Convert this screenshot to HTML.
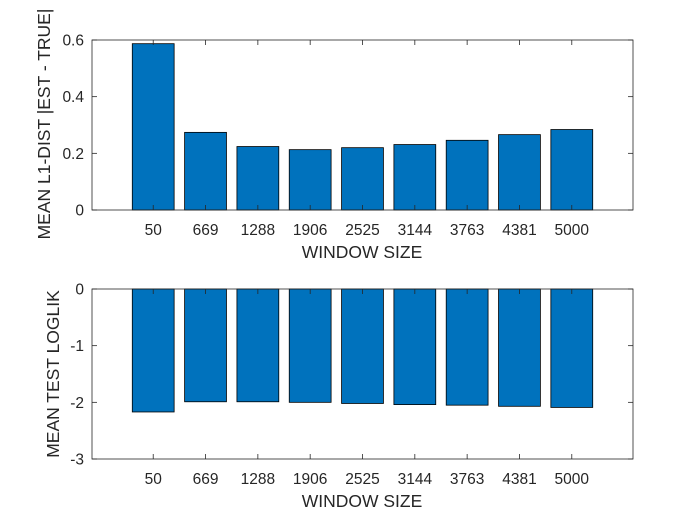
<!DOCTYPE html>
<html><head><meta charset="utf-8"><style>
html,body{margin:0;padding:0;background:#fff;}
svg text{font-family:"Liberation Sans",Arial,sans-serif;fill:#262626;}
</style></head><body>
<svg id="chart" width="700" height="525" xmlns="http://www.w3.org/2000/svg"></svg>
<script>
const categories=["50","669","1288","1906","2525","3144","3763","4381","5000"];
const l1Values=[0.587,0.274,0.224,0.213,0.220,0.231,0.246,0.266,0.284];
const loglikValues=[-2.17,-1.99,-1.99,-2.00,-2.02,-2.04,-2.05,-2.07,-2.09];
const topTicks=[0,0.2,0.4,0.6];
const bottomTicks=[-3,-2,-1,0];
const NS="http://www.w3.org/2000/svg";
const svg=document.getElementById('chart');
function mk(t,a,p){const e=document.createElementNS(NS,t);for(const k in a)e.setAttribute(k,a[k]);(p||svg).appendChild(e);return e;}
const X0=92,X1=633;
const dom=[-0.17,10.17];
function xs(i){return X0+(i+1-dom[0])/(dom[1]-dom[0])*(X1-X0);}
const step=(X1-X0)/(dom[1]-dom[0]);
function panel(name,top,bot,ymin,ymax,vals,ticks,ylabel,fmt){
  const g=mk('g',{});
  
  
  const ys=v=>bot-(v-ymin)/(ymax-ymin)*(bot-top);
  mk('rect',{x:X0,y:top,width:X1-X0,height:bot-top,fill:'#fff'},g);
  vals.forEach((v,i)=>{
    const cx=xs(i),w=step*0.8,y0=ys(0),y1=ys(v);
    const r=mk('rect',{x:cx-w/2,y:Math.min(y0,y1),width:w,height:Math.abs(y1-y0),fill:'#0072BD',stroke:'#000','stroke-width':0.8},g);
    
    
  });
  mk('rect',{x:X0,y:top,width:X1-X0,height:bot-top,fill:'none',stroke:'#262626','stroke-width':0.8},g);
  ticks.forEach(t=>{
    const y=ys(t);
    mk('line',{x1:X0,x2:X0+5,y1:y,y2:y,stroke:'#262626','stroke-width':0.8},g);
    mk('line',{x1:X1,x2:X1-5,y1:y,y2:y,stroke:'#262626','stroke-width':0.8},g);
    const tx=mk('text',{x:X0-8,y:y+5.5,'text-anchor':'end',style:'font-size:15.5px'},g);tx.textContent=fmt(t);
    
    
  });
  categories.forEach((c,i)=>{
    const x=xs(i);
    mk('line',{x1:x,x2:x,y1:bot,y2:bot-5,stroke:'#262626','stroke-width':0.8},g);
    mk('line',{x1:x,x2:x,y1:top,y2:top+5,stroke:'#262626','stroke-width':0.8},g);
    const tx=mk('text',{x:x,y:bot+25,'text-anchor':'middle',style:'font-size:15.5px'},g);tx.textContent=c;
    
    
  });
  const xl=mk('text',{x:362,y:bot+48,'text-anchor':'middle',style:'font-size:17.5px'},g);xl.textContent='WINDOW SIZE';
  
  
  const yl=mk('text',{x:0,y:0,'text-anchor':'middle',style:'font-size:17.5px',transform:`translate(${ylabel[1]},${ylabel[2]}) rotate(-90)`},g);yl.textContent=ylabel[0];
  
  
}
panel('top-panel',40,210,0,0.6,l1Values,topTicks,['MEAN L1-DIST |EST - TRUE|',50,124],t=>t===0?'0':t.toFixed(1));
panel('bottom-panel',289,459,-3,0,loglikValues,bottomTicks,['MEAN TEST LOGLIK',59,374],t=>String(t));
</script>
</body></html>
